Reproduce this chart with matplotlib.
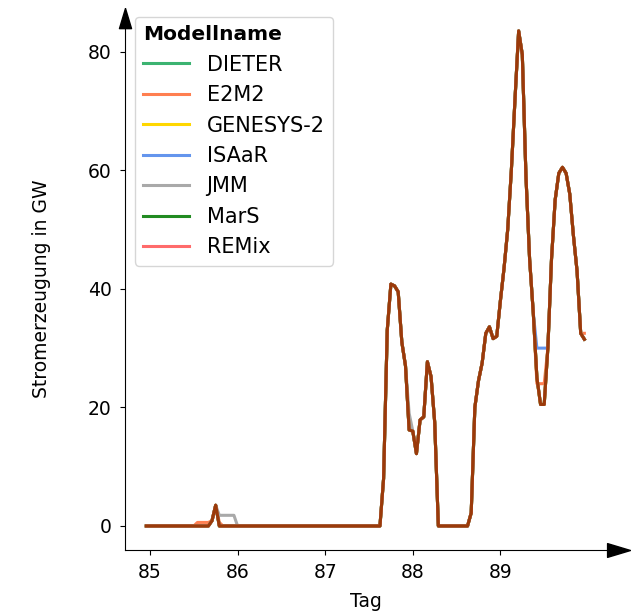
import numpy as np
import matplotlib
matplotlib.use("Agg")
import matplotlib.pyplot as plt
from matplotlib.path import Path

# hours relative to day 85 (one value per hour)
hours = np.arange(-1, 120)

# common curve that most models share
base = [0.0] * 18 + [0.9, 3.5] + [0.0] * 45 + [
    8.0, 33.0, 40.8, 40.5, 39.5, 31.0, 27.0, 16.2, 16.0, 12.2,
    17.9, 18.4, 27.7, 25.2, 17.5] + [0.0] * 9 + [
    2.2, 20.0, 24.5, 27.5, 32.5, 33.6, 31.6, 32.0, 38.0, 43.5,
    50.0, 60.0, 72.0, 83.5, 79.5, 59.0, 45.0, 36.0, 25.0, 20.5,
    20.5, 30.0, 45.0, 55.0, 59.5, 60.5, 59.5, 56.0, 49.0, 43.0,
    32.5, 31.5]

models = ["DIETER", "E2M2", "GENESYS-2", "ISAaR", "JMM", "MarS", "REMix"]
colors = ["#3cb371", "#ff7f50", "#ffd700", "#6495ed", "#a9a9a9", "#228b22", "#ff6b6b"]

# hours where a model leaves the common curve
e2m2_diff = {13: 0.6, 14: 0.6, 15: 0.6, 16: 0.6, 17: 0.9, 19: 0.6,
             106: 24.0, 107: 24.0, 108: 24.0, 119: 32.5}
isaar_diff = {106: 30.0, 107: 30.0, 108: 30.0}
jmm_diff = {19: 1.8, 20: 1.8, 21: 1.8, 22: 1.8, 23: 1.8, 71: 19.0}
diffs = {"E2M2": e2m2_diff, "ISAaR": isaar_diff, "JMM": jmm_diff}

days = 85 + hours / 24

fig = plt.figure(figsize=(6.31, 6.15), dpi=100)
ax = fig.add_axes([0.1981, 0.1057, 0.962 - 0.1981, 0.9545 - 0.1057])

for name, col in zip(models, colors):
    vals = list(base)
    for h, v in diffs.get(name, {}).items():
        vals[h + 1] = v
    ax.plot(days, vals, color=col, lw=2.2, label=name)

ax.plot(days, base, color="#9a3a0a", lw=2.2, label="_nolegend_")

ax.set_xlim(84.715, 90.217)
ax.set_ylim(-4.05, 84.0)
ax.set_xticks([85, 86, 87, 88, 89])
ax.set_yticks([0, 20, 40, 60, 80])
ax.tick_params(labelsize=13.5, pad=6)
ax.spines["top"].set_visible(False)
ax.spines["right"].set_visible(False)

ax.set_xlabel("Tag", fontsize=13.5)
ax.set_ylabel("Stromerzeugung in GW", fontsize=13.5)
ax.xaxis.set_label_coords(0.5, -0.08)
ax.yaxis.set_label_coords(-0.154, 0.5)

# arrow heads at the end of the axes
head = Path([(0, 0), (-2, 0.6), (-2, -0.6), (0, 0)])
head_up = Path([(0, 0), (-0.6, -2), (0.6, -2), (0, 0)])
ax.plot(1.048, 0, marker=head, ms=33, color="k", transform=ax.transAxes, clip_on=False)
ax.plot(0, 1.038, marker=head_up, ms=29, color="k", transform=ax.transAxes, clip_on=False)

leg = ax.legend(title="Modellname", loc="upper left", bbox_to_anchor=(0.02, 1.021),
                borderaxespad=0, fontsize=15, handlelength=2.2, handletextpad=0.85,
                labelspacing=0.5,
                title_fontproperties={"weight": "bold", "size": 14.5})
leg._legend_box.align = "left"

plt.savefig("out.png")
